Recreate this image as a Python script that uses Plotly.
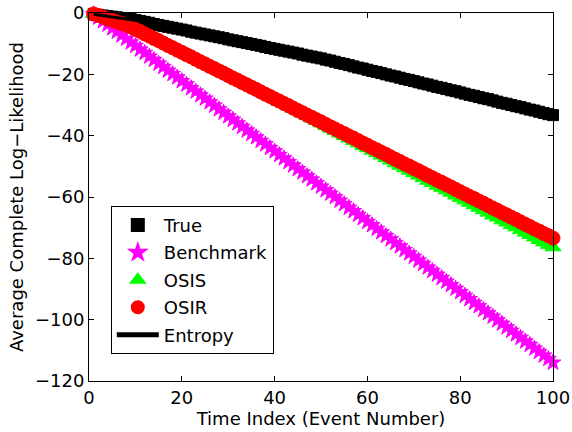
import plotly.graph_objects as go

# Time index (event number)
events = list(range(1, 101))

# Average complete log-likelihood per method
true_ll = [
    -0.4, -0.6, -0.8, -1.0, -1.2, -1.4, -1.6, -1.8, -2.0,
    -2.3, -2.6, -2.9, -3.2, -3.6, -3.9, -4.2, -4.5, -4.8, -5.1, -5.4,
    -5.7, -6.1, -6.4, -6.7, -7.0, -7.3, -7.6, -7.9, -8.2, -8.6,
    -8.9, -9.2, -9.5, -9.8, -10.1, -10.4, -10.7, -11.1, -11.4, -11.7,
    -12.0, -12.3, -12.6, -12.9, -13.2, -13.6, -13.9, -14.2, -14.5, -14.8,
    -15.2, -15.5, -15.9, -16.3, -16.6, -17.0, -17.4, -17.8, -18.1, -18.5,
    -18.9, -19.2, -19.6, -20.0, -20.4, -20.7, -21.1, -21.5, -21.8, -22.2,
    -22.6, -23.0, -23.3, -23.7, -24.1, -24.4, -24.8, -25.2, -25.5, -25.9,
    -26.3, -26.7, -27.0, -27.4, -27.8, -28.1, -28.5, -28.9, -29.3, -29.6,
    -30.0, -30.4, -30.7, -31.1, -31.5, -31.8, -32.2, -32.6, -33.0, -33.3,
]

benchmark_ll = [
    -0.4, -1.5, -2.7, -3.8, -5.0, -6.1, -7.3, -8.4, -9.6, -10.7,
    -11.9, -13.0, -14.2, -15.3, -16.5, -17.6, -18.8, -19.9, -21.0, -22.2,
    -23.3, -24.5, -25.6, -26.8, -27.9, -29.1, -30.2, -31.4, -32.5, -33.7,
    -34.8, -36.0, -37.1, -38.3, -39.4, -40.5, -41.7, -42.8, -44.0, -45.1,
    -46.3, -47.4, -48.6, -49.7, -50.9, -52.0, -53.2, -54.3, -55.5, -56.6,
    -57.8, -58.9, -60.0, -61.2, -62.3, -63.5, -64.6, -65.8, -66.9, -68.1,
    -69.2, -70.4, -71.5, -72.7, -73.8, -75.0, -76.1, -77.3, -78.4, -79.5,
    -80.7, -81.8, -83.0, -84.1, -85.3, -86.4, -87.6, -88.7, -89.9, -91.0,
    -92.2, -93.3, -94.5, -95.6, -96.8, -97.9, -99.0, -100.2, -101.3, -102.5,
    -103.6, -104.8, -105.9, -107.1, -108.2, -109.4, -110.5, -111.7, -112.8, -114.0,
]

osis_ll = [
    -0.3, -0.8, -1.3, -1.9, -2.4, -2.9, -3.4, -4.0, -4.5,
    -5.3, -6.0, -6.8, -7.5, -8.3, -9.0, -9.8, -10.6, -11.3, -12.1, -12.8,
    -13.6, -14.3, -15.1, -15.9, -16.6, -17.4, -18.1, -18.9, -19.6, -20.4,
    -21.2, -21.9, -22.7, -23.4, -24.2, -24.9, -25.7, -26.5, -27.2, -28.0,
    -28.8, -29.6, -30.4, -31.2, -32.0, -32.8, -33.6, -34.4, -35.2, -36.0,
    -36.9, -37.7, -38.5, -39.3, -40.1, -40.9, -41.7, -42.5, -43.4, -44.1,
    -44.9, -45.7, -46.5, -47.3, -48.1, -49.0, -49.8, -50.6, -51.4, -52.2,
    -53.0, -53.8, -54.7, -55.4, -56.3, -57.0, -57.8, -58.6, -59.5, -60.3,
    -61.1, -61.9, -62.7, -63.5, -64.3, -65.1, -66.0, -66.7, -67.6, -68.3,
    -69.2, -69.9, -70.8, -71.6, -72.4, -73.2, -74.0, -74.8, -75.6, -76.4,
]

osir_ll = [
    -0.3, -0.8, -1.3, -1.9, -2.4, -2.9, -3.4, -4.0, -4.5,
    -5.3, -6.0, -6.8, -7.5, -8.3, -9.0, -9.8, -10.6, -11.3, -12.1, -12.8,
    -13.6, -14.3, -15.1, -15.9, -16.6, -17.4, -18.1, -18.9, -19.6, -20.4,
    -21.2, -21.9, -22.7, -23.4, -24.2, -24.9, -25.7, -26.5, -27.2, -28.0,
    -28.7, -29.5, -30.2, -31.0, -31.8, -32.5, -33.3, -34.0, -34.8, -35.5,
    -36.3, -37.1, -37.8, -38.6, -39.3, -40.1, -40.8, -41.6, -42.4, -43.1,
    -43.9, -44.6, -45.4, -46.1, -46.9, -47.7, -48.4, -49.2, -49.9, -50.7,
    -51.4, -52.2, -53.0, -53.7, -54.5, -55.2, -56.0, -56.7, -57.5, -58.3,
    -59.0, -59.8, -60.5, -61.3, -62.0, -62.8, -63.6, -64.3, -65.1, -65.8,
    -66.6, -67.3, -68.1, -68.9, -69.6, -70.4, -71.1, -71.9, -72.6, -73.4,
]

# The entropy curve runs along the true log-likelihood
entropy_ll = list(true_ll)

x_ticks = [0, 20, 40, 60, 80, 100]
y_ticks = [-120, -100, -80, -60, -40, -20, 0]

FONT = "DejaVu Sans"

fig = go.Figure()

marker_series = [
    ("True", true_ll, "square", 11, "#000000"),
    ("Benchmark", benchmark_ll, "star", 12, "#ff00ff"),
    ("OSIS", osis_ll, "triangle-up", 14, "#00ff00"),
    ("OSIR", osir_ll, "circle", 14, "#ff0000"),
]
for name, values, symbol, size, color in marker_series:
    fig.add_trace(go.Scatter(
        x=events, y=values, mode="markers", name=name, legendgroup=name,
        cliponaxis=False,
        marker=dict(symbol=symbol, size=size, color=color,
                    line=dict(color=color, width=1)),
    ))

fig.add_trace(go.Scatter(
    x=events, y=entropy_ll, mode="lines", name="Entropy", legendgroup="Entropy",
    cliponaxis=False,
    line=dict(color="#000000", width=3),
))

axis_common = dict(
    showline=True, linecolor="black", linewidth=1, mirror="ticks",
    ticks="inside", ticklen=5, tickcolor="black", tickwidth=1,
    showgrid=False, zeroline=False,
    tickfont=dict(family=FONT, size=18, color="black"),
)

fig.update_layout(
    width=572, height=432,
    margin=dict(l=89, r=19, t=13, b=51, autoexpand=False),
    paper_bgcolor="white", plot_bgcolor="white",
    font=dict(family=FONT, size=18, color="black"),
    showlegend=True,
    legend=dict(
        x=0.047, y=0.476, xanchor="left", yanchor="top",
        bgcolor="white", bordercolor="black", borderwidth=1,
        font=dict(family=FONT, size=18, color="black"),
        traceorder="grouped", tracegroupgap=1, itemsizing="constant",
        itemwidth=42,
    ),
    xaxis=dict(
        range=[0, 100], tickvals=x_ticks,
        title=dict(text="Time Index (Event Number)", standoff=2,
                   font=dict(family=FONT, size=18)),
        **axis_common,
    ),
    yaxis=dict(
        range=[-120, 0], tickvals=y_ticks,
        title=dict(text="Average Complete Log\u2212Likelihood", standoff=6,
                   font=dict(family=FONT, size=18)),
        **axis_common,
    ),
)

fig.write_html("out.html")
